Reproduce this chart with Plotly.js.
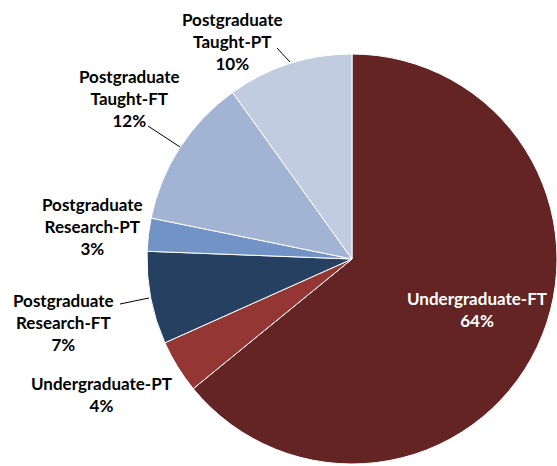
<!DOCTYPE html>
<html>
<head>
<meta charset="utf-8">
<script src="https://cdn.plot.ly/plotly-3.0.1.min.js"></script>
<style>
  body { margin: 0; background: #fff; }
  #chart { width: 557px; height: 466px; }
</style>
</head>
<body>
<div id="chart"></div>
<script>
// slices, clockwise from 12 o'clock
var labels = ["Undergraduate-FT", "Undergraduate-PT", "Postgraduate Research-FT",
    "Postgraduate Research-PT", "Postgraduate Taught-FT", "Postgraduate Taught-PT"];
var values = [64.1, 4.2, 7.3, 2.6, 11.9, 9.9];
var colors = ["#632423", "#943634", "#254061", "#7193c6", "#a2b4d4", "#c1cce1"];

// label text broken over lines like the original
var labelLines = [
    ["Undergraduate-FT"],
    ["Undergraduate-PT"],
    ["Postgraduate", "Research-FT"],
    ["Postgraduate", "Research-PT"],
    ["Postgraduate", "Taught-FT"],
    ["Postgraduate", "Taught-PT"]
];

// where each label sits (pixels from top-left)
var labelPos = [[477, 309], [101, 394], [63, 322], [92, 227], [129, 98], [232, 41]];

// leader lines [x0, y0, x1, y1] in pixels, null where none
var leaders = [null, null, [120, 304, 149, 298], null, [148, 126, 180, 147], [277, 48, 290, 62]];

var W = 557, H = 466;
var total = values.reduce(function(a, b) { return a + b; }, 0);

var trace = {
    type: "pie",
    labels: labels,
    values: values,
    sort: false,
    direction: "clockwise",
    rotation: 0,
    textinfo: "none",
    hoverinfo: "label+percent",
    marker: {colors: colors, line: {color: "#ffffff", width: 1}},
    domain: {x: [147 / W, 1], y: [1 / H, 413 / H]},
    showlegend: false
};

var annotations = labels.map(function(lab, i) {
    var pct = Math.round(values[i] / total * 100) + "%";
    return {
        xref: "paper", yref: "paper",
        x: labelPos[i][0] / W,
        y: 1 - labelPos[i][1] / H,
        xanchor: "center", yanchor: "middle",
        text: labelLines[i].concat([pct]).join("<br>"),
        showarrow: false,
        font: {family: "Lato, sans-serif", size: 17, weight: "bold",
            color: i === 0 ? "#ffffff" : "#000000"}
    };
});

var shapes = [];
leaders.forEach(function(l) {
    if (!l) return;
    shapes.push({
        type: "line", xref: "paper", yref: "paper",
        x0: l[0] / W, y0: 1 - l[1] / H, x1: l[2] / W, y1: 1 - l[3] / H,
        line: {color: "#000000", width: 1}
    });
});

var layout = {
    width: W,
    height: H,
    margin: {l: 0, r: 0, t: 0, b: 0},
    paper_bgcolor: "#ffffff",
    annotations: annotations,
    shapes: shapes
};

Plotly.newPlot("chart", [trace], layout, {displayModeBar: false});
</script>
</body>
</html>
